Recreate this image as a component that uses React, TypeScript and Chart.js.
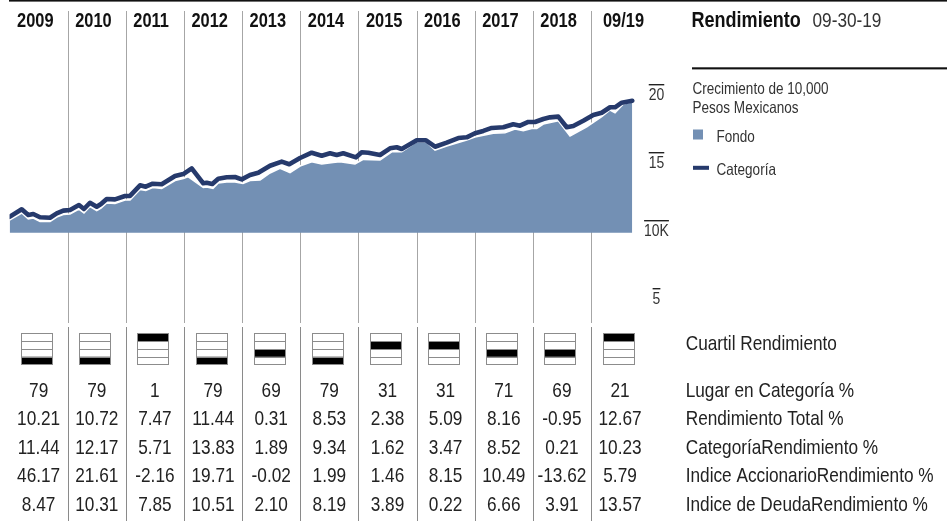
import React, { useEffect, useRef } from "react";
import { Chart, registerables } from "chart.js";

Chart.register(...registerables);

// ---------- DATA ----------
const yearLabels = ["2009", "2010", "2011", "2012", "2013", "2014", "2015", "2016", "2017", "2018", "09/19"];

// Categoría (growth of 10,000, in thousands) – x in decimal years
const catYears = [
  2009.0, 2009.209, 2009.322, 2009.408, 2009.524, 2009.696, 2009.811, 2009.924, 2010.04, 2010.194,
  2010.28, 2010.383, 2010.499, 2010.573, 2010.671, 2010.814, 2010.986, 2011.072, 2011.244, 2011.342,
  2011.462, 2011.617, 2011.846, 2011.988, 2012.133, 2012.332, 2012.391, 2012.487, 2012.59, 2012.735,
  2012.878, 2012.993, 2013.136, 2013.278, 2013.48, 2013.681, 2013.811, 2013.996, 2014.197, 2014.369,
  2014.512, 2014.627, 2014.74, 2014.959, 2015.057, 2015.17, 2015.372, 2015.544, 2015.659, 2015.745,
  2016.003, 2016.163, 2016.318, 2016.519, 2016.718, 2016.863, 2017.005, 2017.148, 2017.293, 2017.492,
  2017.664, 2017.779, 2017.922, 2018.037, 2018.18, 2018.295, 2018.438, 2018.583, 2018.696, 2018.868,
  2019.04, 2019.185, 2019.328, 2019.414, 2019.529, 2019.71,
];
const catValues = [
  10.29, 10.84, 10.42, 10.49, 10.25, 10.22, 10.54, 10.74, 10.79, 11.15,
  10.86, 11.32, 11.03, 11.23, 11.6, 11.57, 11.82, 11.82, 12.6, 12.5,
  12.72, 12.68, 13.29, 13.43, 13.85, 12.75, 12.79, 12.7, 13.09, 13.19,
  13.21, 13.04, 13.36, 13.53, 14.04, 14.34, 14.15, 14.61, 15.0, 14.78,
  14.96, 14.83, 14.96, 14.66, 15.03, 15.0, 14.83, 15.32, 15.4, 15.27,
  15.91, 15.91, 15.44, 15.74, 16.08, 16.13, 16.43, 16.6, 16.82, 16.87,
  17.09, 16.99, 17.26, 17.26, 17.48, 17.6, 17.65, 16.87, 16.96, 17.35,
  17.77, 17.94, 18.34, 18.34, 18.68, 18.82,
];

// Fondo (growth of 10,000, in thousands)
const fundYears = [
  2009.0, 2009.209, 2009.322, 2009.408, 2009.524, 2009.696, 2009.811, 2009.924, 2010.04, 2010.194,
  2010.28, 2010.383, 2010.499, 2010.573, 2010.671, 2010.814, 2010.986, 2011.072, 2011.244, 2011.342,
  2011.462, 2011.617, 2011.846, 2011.988, 2012.069, 2012.332, 2012.391, 2012.499, 2012.59, 2012.735,
  2012.878, 2013.015, 2013.136, 2013.308, 2013.48, 2013.652, 2013.824, 2013.996, 2014.197, 2014.369,
  2014.563, 2014.683, 2014.941, 2015.084, 2015.372, 2015.573, 2015.745, 2016.003, 2016.163, 2016.318,
  2016.519, 2016.863, 2017.005, 2017.32, 2017.521, 2017.693, 2017.836, 2017.981, 2018.067, 2018.18,
  2018.438, 2018.64, 2018.927, 2019.185, 2019.328, 2019.414, 2019.557, 2019.71,
];
const fundValues = [
  10.05, 10.57, 10.13, 10.2, 9.94, 9.94, 10.27, 10.46, 10.49, 10.86,
  10.57, 11.04, 10.75, 10.93, 11.3, 11.26, 11.52, 11.52, 12.29, 12.22,
  12.44, 12.37, 12.96, 13.1, 13.24, 12.44, 12.48, 12.38, 12.77, 12.85,
  12.85, 12.75, 12.96, 12.99, 13.51, 13.85, 13.53, 14.02, 14.34, 14.17,
  14.29, 14.34, 14.17, 14.51, 14.46, 15.07, 15.07, 15.81, 15.81, 15.2,
  15.49, 15.93, 16.15, 16.43, 16.47, 16.74, 16.62, 16.79, 16.79, 17.11,
  17.35, 16.23, 16.91, 17.65, 18.14, 17.94, 18.58, 18.75,
];
const FUND_BASE = 9.12;

const yTickValues = [20, 15, 10, 5];
const yTickLabels = ["20", "15", "10K", "5"];

const quartiles = [4, 4, 1, 4, 3, 4, 2, 2, 3, 3, 1];
const rankPct = ["79", "79", "1", "79", "69", "79", "31", "31", "71", "69", "21"];
const totalReturn = ["10.21", "10.72", "7.47", "11.44", "0.31", "8.53", "2.38", "5.09", "8.16", "-0.95", "12.67"];
const categoryReturn = ["11.44", "12.17", "5.71", "13.83", "1.89", "9.34", "1.62", "3.47", "8.52", "0.21", "10.23"];
const equityIndexReturn = ["46.17", "21.61", "-2.16", "19.71", "-0.02", "1.99", "1.46", "8.15", "10.49", "-13.62", "5.79"];
const debtIndexReturn = ["8.47", "10.31", "7.85", "10.51", "2.10", "8.19", "3.89", "0.22", "6.66", "3.91", "13.57"];

const quartileLabel = "Cuartil Rendimiento";
const rowLabels = [
  "Lugar en Categoría %",
  "Rendimiento Total %",
  "CategoríaRendimiento %",
  "Indice AccionarioRendimiento %",
  "Indice de DeudaRendimiento %",
];

const headerTitle = "Rendimiento";
const headerDate = "09-30-19";
const legendTitle = ["Crecimiento de 10,000", "Pesos Mexicanos"];
const legendFund = "Fondo";
const legendCat = "Categoría";

// ---------- STYLE ----------
const FONT = '"Liberation Sans", Arial, sans-serif';
const NARROW = 0.82;
const FUND_COLOR = "#7390b4";
const CAT_COLOR = "#263a6c";
const TEXT = "#222";

const W = 947;
const H = 521;

function narrowText(
  ctx: CanvasRenderingContext2D,
  text: string,
  x: number,
  y: number,
  font: string,
  color: string,
  align: CanvasTextAlign = "left"
) {
  ctx.save();
  ctx.font = font;
  ctx.fillStyle = color;
  ctx.textAlign = align;
  ctx.textBaseline = "alphabetic";
  ctx.translate(x, y);
  ctx.scale(NARROW, 1);
  ctx.fillText(text, 0, 0);
  ctx.restore();
}

function narrowWidth(ctx: CanvasRenderingContext2D, text: string, font: string) {
  ctx.save();
  ctx.font = font;
  const w = ctx.measureText(text).width * NARROW;
  ctx.restore();
  return w;
}

const decorPlugin = {
  id: "decor",
  beforeDatasetsDraw(chart: any) {
    const ctx = chart.ctx;
    const xs = chart.scales.x;
    ctx.save();
    ctx.strokeStyle = "#a6a6a6";
    ctx.lineWidth = 1;
    for (let k = 1; k < yearLabels.length; k++) {
      const x = Math.round(xs.getPixelForValue(2009 + k)) + 0.5;
      ctx.beginPath();
      ctx.moveTo(x, 11);
      ctx.lineTo(x, 323);
      ctx.stroke();
    }
    ctx.restore();
  },
  afterDraw(chart: any) {
    const ctx = chart.ctx as CanvasRenderingContext2D;
    const xs = chart.scales.x;
    const ys = chart.scales.y;
    ctx.save();

    // top rule and right header rule
    ctx.fillStyle = "#111";
    ctx.fillRect(9, 0, W - 9, 1.6);
    ctx.fillRect(692, 67.3, W - 692, 2.1);

    // year labels
    const yearFont = `bold 20px ${FONT}`;
    yearLabels.forEach((lab, i) => {
      const start = xs.getPixelForValue(2009 + i);
      const x = lab.includes("/") ? start + 12 : start + 7.5;
      narrowText(ctx, lab, x, 26.7, yearFont, "#111");
    });

    // header
    narrowText(ctx, headerTitle, 691.5, 26.7, `bold 22px ${FONT}`, "#111");
    narrowText(ctx, headerDate, 812.5, 26.7, `21px ${FONT}`, "#333");

    // y ticks with overline
    const tickFont = `17px ${FONT}`;
    yTickValues.forEach((v, i) => {
      const y = ys.getPixelForValue(v);
      const lab = yTickLabels[i];
      const w = narrowWidth(ctx, lab, tickFont);
      const cx = 656.5;
      ctx.fillStyle = "#222";
      ctx.fillRect(cx - w / 2, y - 0.7, w, 1.4);
      narrowText(ctx, lab, cx, y + 15, tickFont, "#333", "center");
    });

    // legend
    const legFont = `16.5px ${FONT}`;
    narrowText(ctx, legendTitle[0], 692.5, 94, legFont, "#333");
    narrowText(ctx, legendTitle[1], 692.5, 112.5, legFont, "#333");
    narrowText(ctx, legendFund, 716.5, 142.3, legFont, "#333");
    narrowText(ctx, legendCat, 716.5, 174.5, legFont, "#333");
    ctx.fillStyle = FUND_COLOR;
    ctx.fillRect(693, 129.5, 10, 10);
    ctx.fillStyle = CAT_COLOR;
    ctx.fillRect(693, 165.8, 16, 4);

    // table vertical lines
    ctx.strokeStyle = "#8a8a8a";
    ctx.lineWidth = 1;
    for (let k = 1; k < yearLabels.length; k++) {
      const x = Math.round(xs.getPixelForValue(2009 + k)) + 0.5;
      ctx.beginPath();
      ctx.moveTo(x, 327);
      ctx.lineTo(x, H);
      ctx.stroke();
    }

    // quartile boxes
    const boxTop = 333.3;
    const boxSize = 31;
    const rowH = boxSize / 4;
    quartiles.forEach((q, k) => {
      const cx = xs.getPixelForValue(2009.5 + k) - 2;
      const left = Math.round(cx - boxSize / 2) + 0.5;
      const top = Math.round(boxTop) + 0.5;
      ctx.fillStyle = "#000";
      ctx.fillRect(left, top + (q - 1) * rowH, boxSize, rowH);
      ctx.strokeStyle = "#8c8c8c";
      ctx.lineWidth = 1;
      ctx.strokeRect(left, top, boxSize, boxSize);
      for (let r = 1; r < 4; r++) {
        const yy = Math.round(top + r * rowH) + 0.5;
        ctx.beginPath();
        ctx.moveTo(left, yy);
        ctx.lineTo(left + boxSize, yy);
        ctx.stroke();
      }
    });

    // table numbers
    const rows = [rankPct, totalReturn, categoryReturn, equityIndexReturn, debtIndexReturn];
    const tabFont = `21px ${FONT}`;
    rows.forEach((row, r) => {
      const base = 396.8 + r * 28.55;
      row.forEach((val, k) => {
        narrowText(ctx, val, xs.getPixelForValue(2009.5 + k), base, tabFont, TEXT, "center");
      });
    });

    // row labels
    narrowText(ctx, quartileLabel, 685.7, 350, tabFont, TEXT);
    rowLabels.forEach((lab, r) => {
      narrowText(ctx, lab, 685.7, 396.8 + r * 28.55, tabFont, TEXT);
    });

    ctx.restore();
  },
};

export default function App() {
  const canvasRef = useRef<HTMLCanvasElement | null>(null);

  useEffect(() => {
    const canvas = canvasRef.current;
    if (!canvas) return;
    const chart = new Chart(canvas, {
      type: "line",
      data: {
        datasets: [
          {
            label: legendCat,
            data: catYears.map((x, i) => ({ x, y: catValues[i] })),
            borderColor: CAT_COLOR,
            borderWidth: 4.6,
            borderCapStyle: "round",
            borderJoinStyle: "round",
            pointRadius: 0,
            fill: false,
            tension: 0,
            order: 0,
          },
          {
            label: legendFund,
            data: fundYears.map((x, i) => ({ x, y: fundValues[i] })),
            borderColor: "#ffffff",
            borderWidth: 1.6,
            backgroundColor: FUND_COLOR,
            pointRadius: 0,
            fill: { value: FUND_BASE },
            tension: 0,
            order: 1,
          },
        ],
      },
      options: {
        responsive: false,
        devicePixelRatio: 1,
        animation: false,
        events: [],
        layout: {
          padding: { left: 9.56, right: W - 649.1, top: 9.9, bottom: H - 322.7 },
        },
        scales: {
          x: { type: "linear", min: 2009, max: 2020, display: false },
          y: { type: "linear", min: 2.5, max: 25.5, display: false },
        },
        plugins: {
          legend: { display: false },
          tooltip: { enabled: false },
          title: { display: false },
        },
      },
      plugins: [decorPlugin],
    } as any);
    return () => chart.destroy();
  }, []);

  return (
    <div style={{ position: "absolute", left: 0, top: 0, width: W, height: H, background: "#fff" }}>
      <canvas ref={canvasRef} width={W} height={H} style={{ display: "block", width: W, height: H }} />
    </div>
  );
}
